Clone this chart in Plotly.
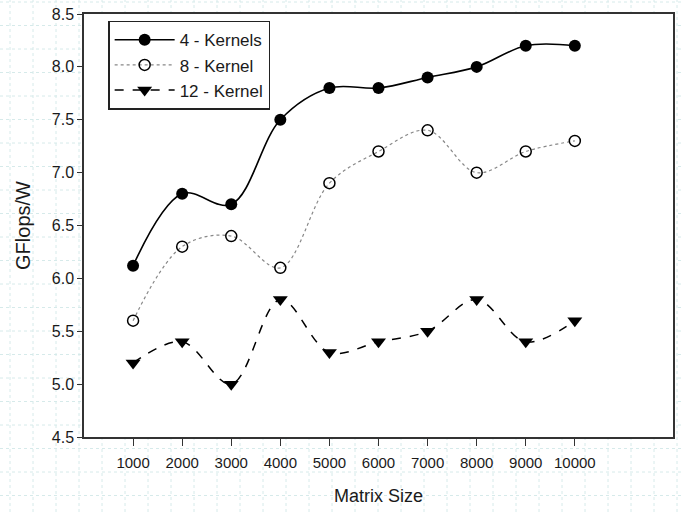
import numpy as np
import plotly.graph_objects as go

matrix_size = [1000, 2000, 3000, 4000, 5000, 6000, 7000, 8000, 9000, 10000]
k4 = [6.12, 6.8, 6.7, 7.5, 7.8, 7.8, 7.9, 8.0, 8.2, 8.2]
k8 = [5.6, 6.3, 6.4, 6.1, 6.9, 7.2, 7.4, 7.0, 7.2, 7.3]
k12 = [5.2, 5.4, 5.0, 5.8, 5.3, 5.4, 5.5, 5.8, 5.4, 5.6]
x_ticks = [1000, 2000, 3000, 4000, 5000, 6000, 7000, 8000, 9000, 10000]
y_ticks = [4.5, 5.0, 5.5, 6.0, 6.5, 7.0, 7.5, 8.0, 8.5]

W, H = 683, 512
ML, MR, MT, MB = 84, 10, 14, 75
PW, PH = W - ML - MR, H - MT - MB

fig = go.Figure()
fig.add_trace(go.Scatter(x=matrix_size, y=k4, name="4 - Kernels", mode="lines+markers",
                         line=dict(color="black", width=1.6, shape="spline", smoothing=1.0),
                         marker=dict(symbol="circle", size=12, color="black")))
fig.add_trace(go.Scatter(x=matrix_size, y=k8, name="8 - Kernel", mode="lines+markers",
                         line=dict(color="#888888", width=1.2, dash="dot", shape="spline", smoothing=1.0),
                         marker=dict(symbol="circle-open", size=11, color="black", line=dict(width=1.5))))
fig.add_trace(go.Scatter(x=matrix_size, y=k12, name="12 - Kernel", mode="lines+markers",
                         line=dict(color="black", width=1.5, dash="dash", shape="spline", smoothing=1.0),
                         marker=dict(symbol="triangle-down", size=13, color="black")))

# faint graph-paper background outside the plot area
shapes = []
grid_style = dict(color="#d6eaea", width=1, dash="dot")
for px in np.arange(10, W, 23):
    xp = (px - ML) / PW
    shapes.append(dict(type="line", xref="paper", yref="paper", x0=xp, x1=xp,
                       y0=-MB / PH, y1=(PH + MT) / PH, line=grid_style, layer="below"))
for py in np.arange(2, H, 23.5):
    yp = (MT + PH - py) / PH
    shapes.append(dict(type="line", xref="paper", yref="paper", y0=yp, y1=yp,
                       x0=-ML / PW, x1=(PW + MR) / PW, line=grid_style, layer="below"))
shapes.append(dict(type="rect", xref="paper", yref="paper", x0=0, x1=1, y0=0, y1=1,
                   fillcolor="white", line=dict(width=0), layer="below"))

fig.update_layout(
    width=W, height=H,
    margin=dict(l=ML, r=MR, t=MT, b=MB, autoexpand=False),
    paper_bgcolor="white", plot_bgcolor="rgba(0,0,0,0)",
    font=dict(family="Liberation Sans, Arial, sans-serif", size=16, color="#1a1a1a"),
    shapes=shapes,
    showlegend=True,
    legend=dict(x=0.041, y=0.984, xanchor="left", yanchor="top",
                bordercolor="#222222", borderwidth=1.5, bgcolor="white",
                font=dict(size=17), tracegroupgap=0, itemwidth=60),
    xaxis=dict(range=[0, 12000], tickvals=x_ticks, ticktext=[str(v) for v in x_ticks],
               showgrid=False, zeroline=False, showline=True, linecolor="#333333", linewidth=1.5,
               mirror=True, ticks="outside", ticklen=7, tickcolor="#333333",
               ticklabelstandoff=4, automargin=False,
               tickfont=dict(size=15),
               title=dict(text="Matrix Size", font=dict(size=18), standoff=20)),
    yaxis=dict(range=[4.5, 8.5], tickvals=y_ticks, ticktext=[f"{v:.1f}" for v in y_ticks],
               showgrid=False, zeroline=False, showline=True, linecolor="#333333", linewidth=1.5,
               mirror=True, ticks="outside", ticklen=5, tickcolor="#333333",
               automargin=False, tickfont=dict(size=16),
               title=dict(text="GFlops/W", font=dict(size=20), standoff=16)),
)

fig.write_html("out.html", config={"displayModeBar": False},
               post_script="document.body.style.margin='0';")
